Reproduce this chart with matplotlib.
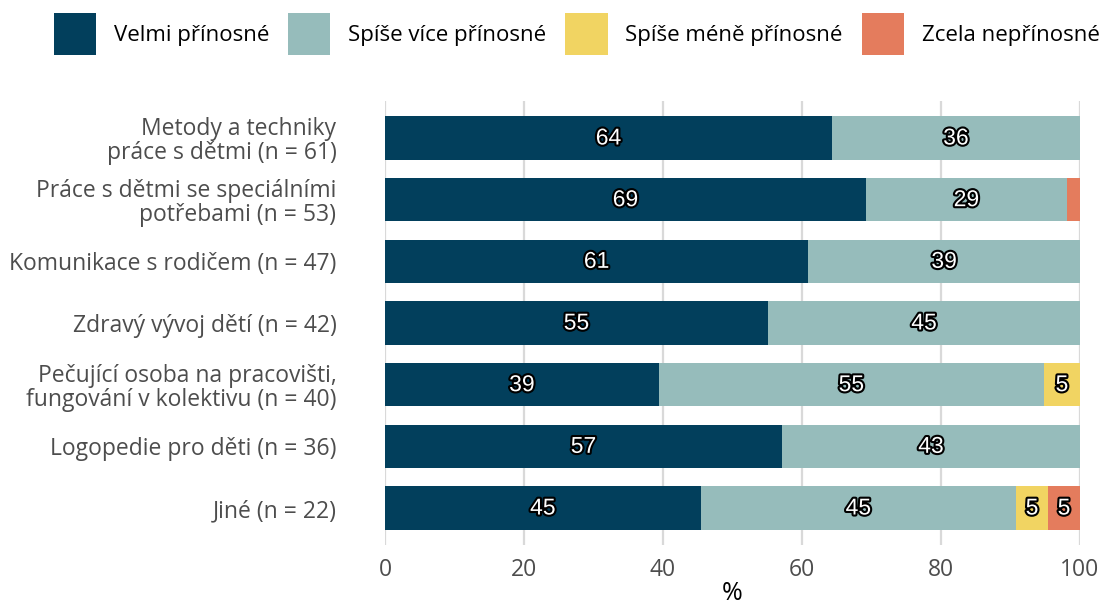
import matplotlib
matplotlib.use("Agg")
import numpy as np
from matplotlib import pyplot as plt
from matplotlib.patches import Patch
import matplotlib.patheffects as pe

categories = [
    "Metody a techniky\npráce s dětmi (n = 61)",
    "Práce s dětmi se speciálními\npotřebami (n = 53)",
    "Komunikace s rodičem (n = 47)",
    "Zdravý vývoj dětí (n = 42)",
    "Pečující osoba na pracovišti,\nfungování v kolektivu (n = 40)",
    "Logopedie pro děti (n = 36)",
    "Jiné (n = 22)",
]
series_names = ["Velmi přínosné", "Spíše více přínosné", "Spíše méně přínosné", "Zcela nepřínosné"]
velmi = [64.3, 69.2, 60.9, 55.1, 39.4, 57.1, 45.4]
vice = [35.7, 28.9, 39.1, 44.9, 55.4, 42.9, 45.4]
mene = [0.0, 0.0, 0.0, 0.0, 5.2, 0.0, 4.6]
zcela = [0.0, 1.9, 0.0, 0.0, 0.0, 0.0, 4.6]
colors = ["#023F5C", "#96BCBB", "#F1D462", "#E47C5D"]

plt.rcParams["font.family"] = ["Open Sans", "DejaVu Sans"]

fig = plt.figure(figsize=(11.05, 6.07), dpi=100)
ax = fig.add_axes([385 / 1105, 1 - 545 / 607, 695 / 1105, 444 / 607])

ys = np.arange(len(categories))
left = np.zeros(len(categories))
for name, vals, col in zip(series_names, [velmi, vice, mene, zcela], colors):
    vals = np.array(vals)
    ax.barh(ys, vals, left=left, height=0.7, color=col, label=name, zorder=2)
    for y, l, v in zip(ys, left, vals):
        if v >= 3:
            ax.text(l + v / 2, y, f"{round(v)}", ha="center", va="center",
                    fontsize=16.5, color="white", family="Liberation Sans", zorder=3,
                    path_effects=[pe.withStroke(linewidth=3, foreground="black")])
    left += vals

ax.set_xlim(0, 100)
ax.set_ylim(len(categories) - 0.4, -0.6)
ax.set_xticks([0, 20, 40, 60, 80, 100])
ax.set_yticks(ys)
ax.set_yticklabels(categories, linespacing=1.0)
ax.tick_params(axis="both", length=0, labelsize=16.5, labelcolor="#4D4D4D")
ax.tick_params(axis="y", pad=35)
ax.tick_params(axis="x", pad=9)
ax.xaxis.grid(True, color="#D9D9D9", linewidth=1.6, zorder=0)
ax.set_axisbelow(True)
for s in ax.spines.values():
    s.set_visible(False)
ax.set_xlabel("%", fontsize=18, labelpad=0)

handles = [Patch(facecolor=c, edgecolor="none") for c in colors]
fig.legend(handles, series_names, loc="upper left", bbox_to_anchor=(54 / 1105, 1 - 13 / 607),
           ncol=4, frameon=False, fontsize=16, handlelength=1.9, handleheight=2.5,
           handletextpad=0.8, columnspacing=0.85, borderpad=0, borderaxespad=0)

plt.savefig("out.png", dpi=100)
